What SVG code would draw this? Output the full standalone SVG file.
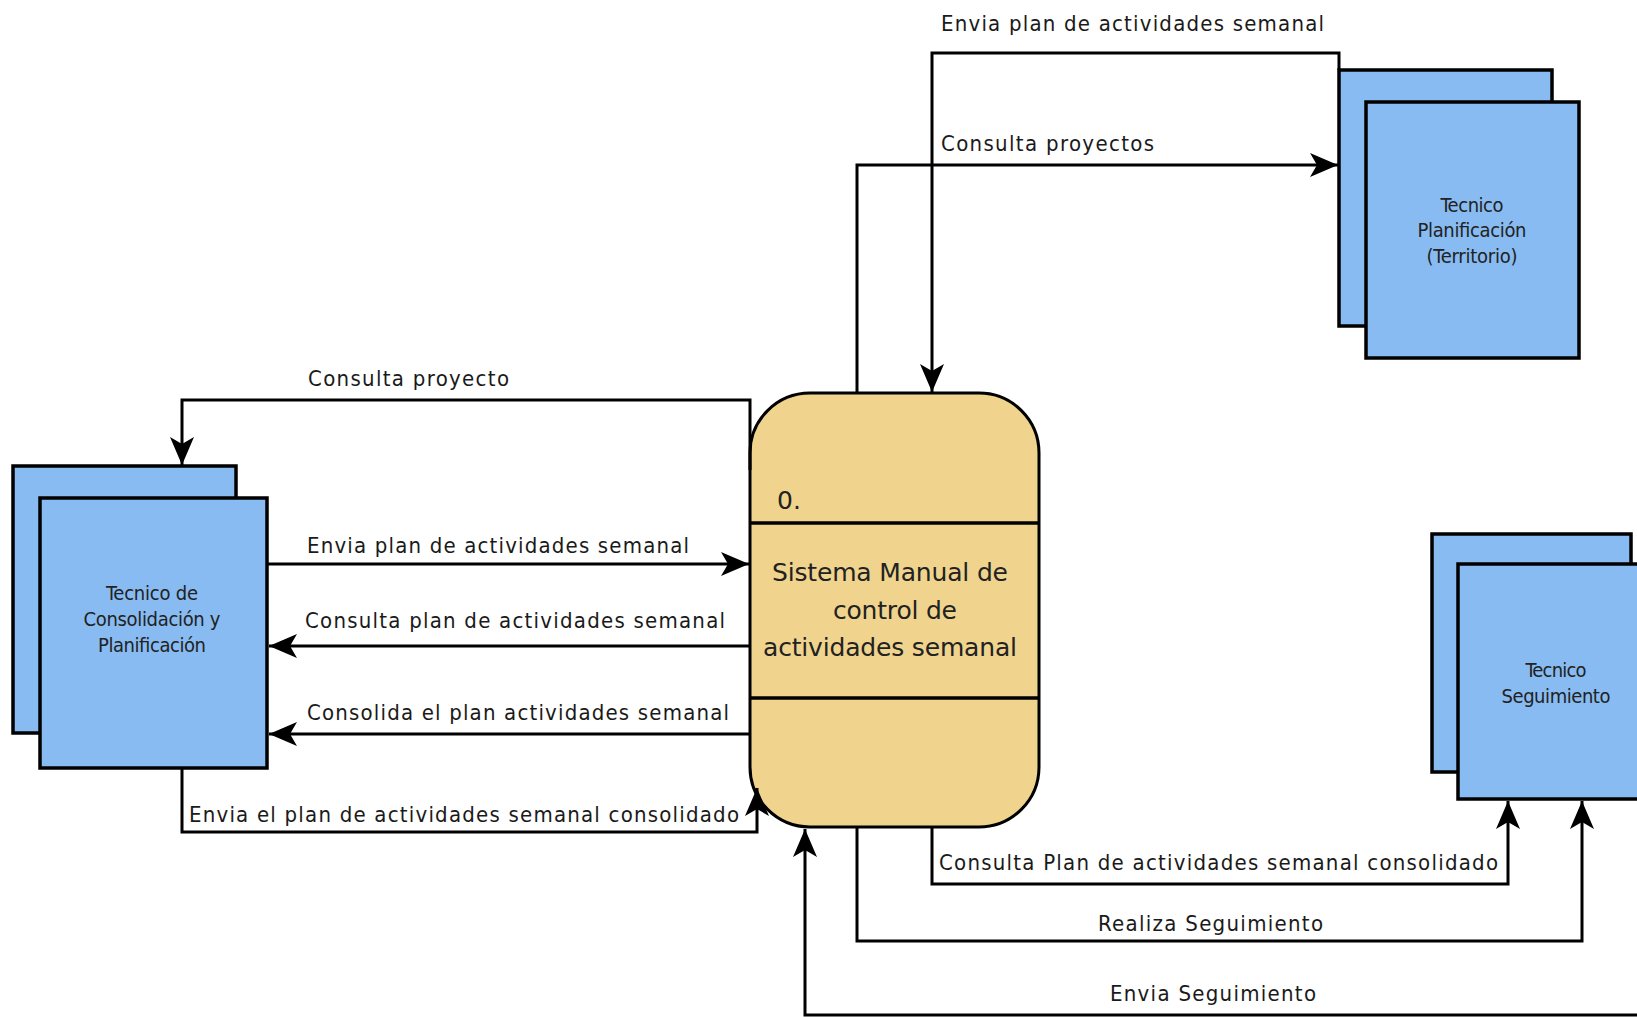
<svg xmlns="http://www.w3.org/2000/svg" width="1637" height="1017" viewBox="0 0 1637 1017">
  <defs>
    <style>
      .ext { fill: #87bbf2; stroke: #000; stroke-width: 3.5; }
      .proc { fill: #f0d48e; stroke: #000; stroke-width: 3; }
      .div { stroke: #000; stroke-width: 3.5; fill: none; }
      .flow { fill: none; stroke: #000; stroke-width: 3; marker-end: url(#arrow); }
      .lbl { font-family: "DejaVu Sans Condensed", "DejaVu Sans", sans-serif; font-size: 22px; fill: #1a1a1a; }
      .ent { font-family: "DejaVu Sans Condensed", "DejaVu Sans", sans-serif; font-size: 20px; fill: #222; text-anchor: middle; }
      .ptxt { font-family: "DejaVu Sans", sans-serif; font-size: 25px; fill: #222; }
    </style>
    <marker id="arrow" markerUnits="userSpaceOnUse" viewBox="-30 -14 32 28" markerWidth="32" markerHeight="28" refX="0" refY="0" orient="auto">
      <path d="M0,0 L-28,-12 L-21,0 L-28,12 Z" fill="#000"/>
    </marker>
  </defs>

  <rect width="1637" height="1017" fill="#fff"/>

  <!-- External entity: Tecnico de Consolidación y Planificación -->
  <g id="tecnico-consolidacion">
    <rect class="ext" x="13" y="466" width="223" height="267"/>
    <rect class="ext" x="40" y="498" width="227" height="270"/>
    <text class="ent" x="152" y="600" textLength="92">Tecnico de</text>
    <text class="ent" x="152" y="626" textLength="137">Consolidación y</text>
    <text class="ent" x="152" y="652" textLength="108">Planificación</text>
  </g>

  <!-- External entity: Tecnico Planificación (Territorio) -->
  <g id="tecnico-planificacion">
    <rect class="ext" x="1339" y="70" width="213" height="256"/>
    <rect class="ext" x="1366" y="102" width="213" height="256"/>
    <text class="ent" x="1472" y="212" textLength="63">Tecnico</text>
    <text class="ent" x="1472" y="237" textLength="109">Planificación</text>
    <text class="ent" x="1472" y="263" textLength="91">(Territorio)</text>
  </g>

  <!-- External entity: Tecnico Seguimiento -->
  <g id="tecnico-seguimiento">
    <rect class="ext" x="1432" y="534" width="199" height="238"/>
    <rect class="ext" x="1458" y="564" width="200" height="235"/>
    <text class="ent" x="1556" y="677" textLength="61">Tecnico</text>
    <text class="ent" x="1556" y="703" textLength="109">Seguimiento</text>
  </g>

  <!-- Process 0 -->
  <g id="proceso-0">
    <rect class="proc" x="750" y="393" width="289" height="434" rx="60" ry="60"/>
    <line class="div" x1="750" y1="523" x2="1039" y2="523"/>
    <line class="div" x1="750" y1="698" x2="1039" y2="698"/>
    <text class="ptxt" x="777" y="509">0.</text>
    <text class="ptxt" x="772" y="581" textLength="236">Sistema Manual de</text>
    <text class="ptxt" x="833" y="619" textLength="124">control de</text>
    <text class="ptxt" x="763" y="656" textLength="254">actividades semanal</text>
  </g>

  <!-- Data flows -->
  <g id="connectors">
    <g id="flow-consulta-proyecto">
      <path class="flow" d="M750,470 V400 H182 V465"/>
      <text class="lbl" x="308" y="386" textLength="201">Consulta proyecto</text>
    </g>
    <g id="flow-envia-plan-izq">
      <path class="flow" d="M267,564 H749"/>
      <text class="lbl" x="307" y="553" textLength="382">Envia plan de actividades semanal</text>
    </g>
    <g id="flow-consulta-plan">
      <path class="flow" d="M750,646 H269"/>
      <text class="lbl" x="305" y="628" textLength="420">Consulta plan de actividades semanal</text>
    </g>
    <g id="flow-consolida-plan">
      <path class="flow" d="M750,734 H269"/>
      <text class="lbl" x="307" y="720" textLength="422">Consolida el plan actividades semanal</text>
    </g>
    <g id="flow-envia-consolidado">
      <path class="flow" d="M182,768 V832 H757 V788"/>
      <text class="lbl" x="189" y="822" textLength="550">Envia el plan de actividades semanal consolidado</text>
    </g>
    <g id="flow-envia-plan-sup">
      <path class="flow" d="M1339,70 V53 H932 V392"/>
      <text class="lbl" x="941" y="31" textLength="383">Envia plan de actividades semanal</text>
    </g>
    <g id="flow-consulta-proyectos">
      <path class="flow" d="M857,393 V165 H1338"/>
      <text class="lbl" x="941" y="151" textLength="213">Consulta proyectos</text>
    </g>
    <g id="flow-consulta-consolidado">
      <path class="flow" d="M932,827 V884 H1508 V801"/>
      <text class="lbl" x="939" y="870" textLength="559">Consulta Plan de actividades semanal consolidado</text>
    </g>
    <g id="flow-realiza-seguimiento">
      <path class="flow" d="M857,827 V941 H1582 V801"/>
      <text class="lbl" x="1098" y="931" textLength="225">Realiza Seguimiento</text>
    </g>
    <g id="flow-envia-seguimiento">
      <path class="flow" d="M1640,1015 H805 V829"/>
      <text class="lbl" x="1110" y="1001" textLength="206">Envia Seguimiento</text>
    </g>
  </g>
</svg>
